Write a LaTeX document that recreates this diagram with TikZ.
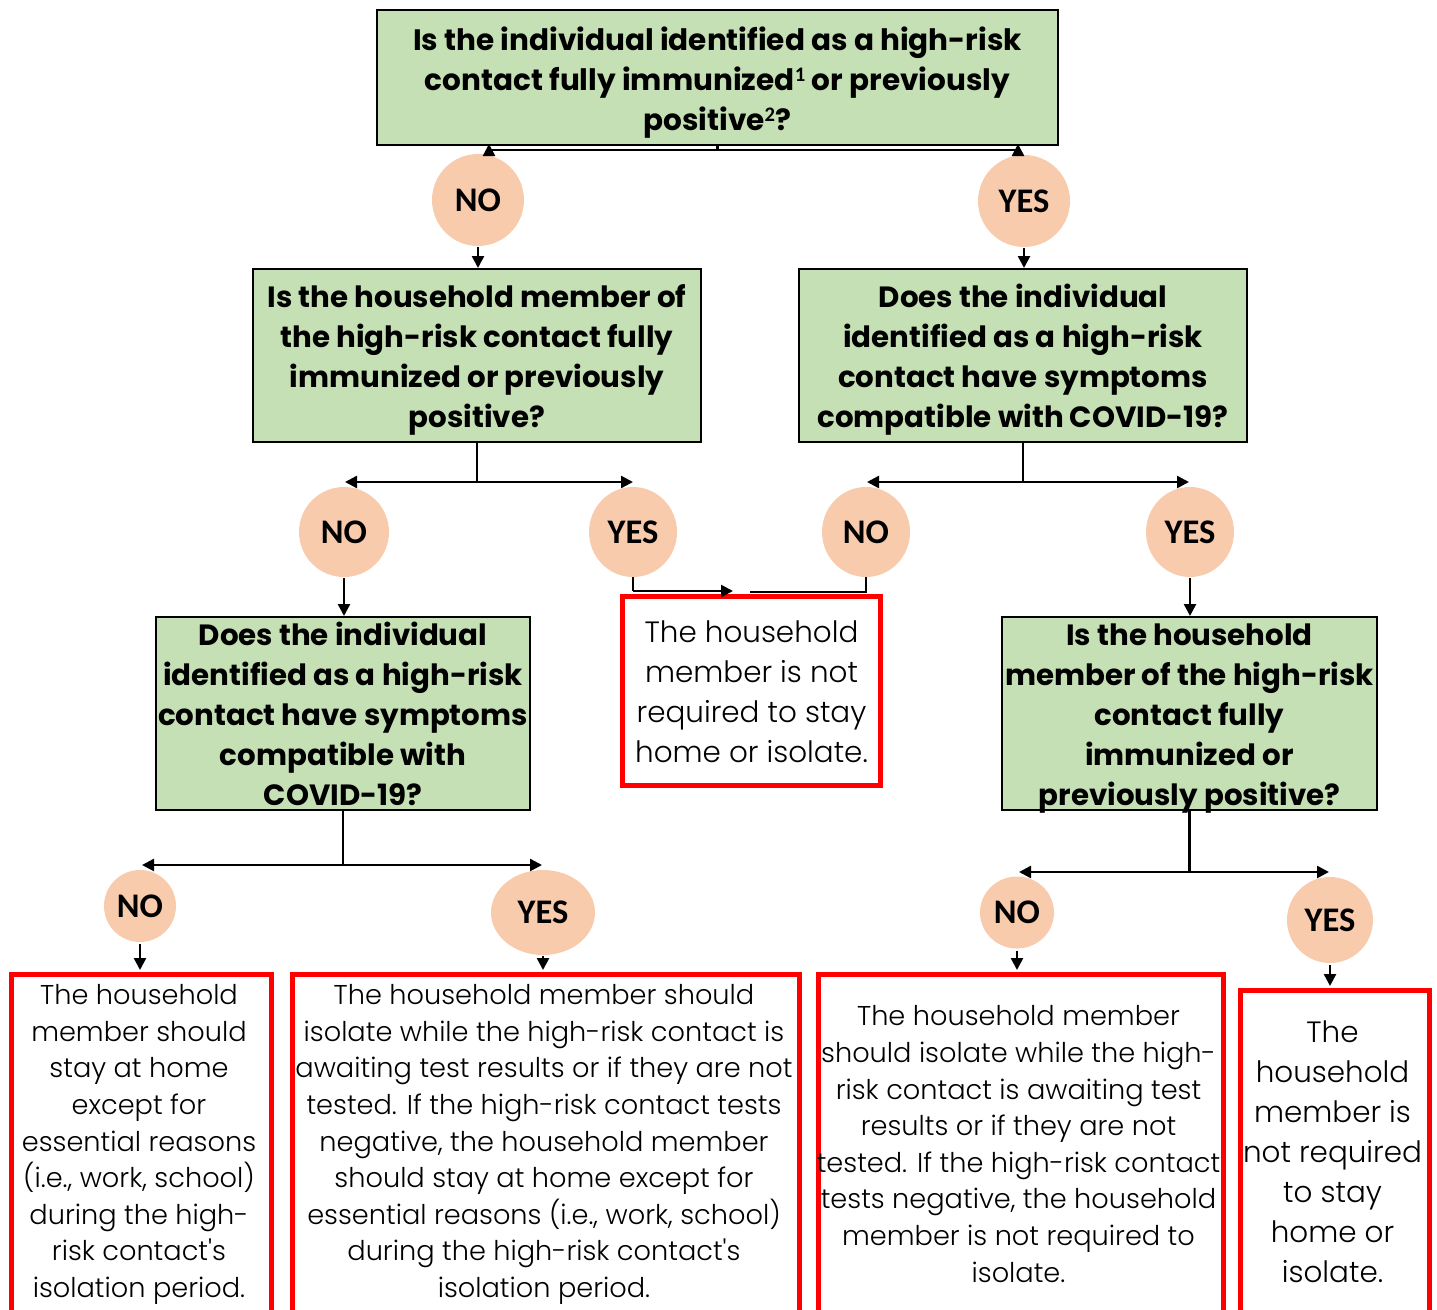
\documentclass[tikz,border=0pt]{standalone}
\usepackage{fontspec}
\setmainfont{Carlito}
\newfontfamily\pfont{Poppins}
\newfontfamily\plight{Poppins}[UprightFont={* Light}]
\usetikzlibrary{shapes.geometric,arrows.meta}
\definecolor{qgreen}{HTML}{C5E0B4}
\definecolor{ans}{HTML}{F8CBAD}
\definecolor{outred}{HTML}{FF0000}
\tikzset{
  gbox/.style={draw=black, line width=2.5pt, fill=qgreen, inner sep=0pt},
  rbox/.style={draw=outred, line width=5pt, fill=white, inner sep=0pt},
  circ/.style={ellipse, fill=ans, inner sep=0pt, font=\fontsize{34.5}{36}\selectfont\bfseries},
  toptext/.style={align=center, inner sep=0pt, font=\pfont\fontsize{29.5}{40}\selectfont\bfseries},
  qtext/.style={align=center, inner sep=0pt, font=\pfont\fontsize{29.3}{40}\selectfont\bfseries},
  atext/.style={align=center, inner sep=0pt, font=\plight\fontsize{27.2}{36.6}\selectfont},
  btext/.style={align=center, inner sep=0pt, font=\plight\fontsize{29.4}{40}\selectfont},
  conn/.style={line width=2.5pt, draw=black},
  arr/.style={conn, -{Triangle[length=12pt, width=12pt]}},
}
\begin{document}
\begin{tikzpicture}[x=1pt,y=-1pt]
\useasboundingbox (0,0) rectangle (1437,1309);
% question boxes
\node[gbox, minimum width=681pt, minimum height=135pt] (q1) at (717.5,77.5) {};
\node[toptext] (t1) at (717.5,82.5) {Is the individual identified as a high-risk\\contact fully immunized\textsuperscript{\rmfamily 1} or previously\\positive\textsuperscript{\rmfamily 2}?};
\node[gbox, minimum width=448pt, minimum height=173pt] (q2) at (477,355.5) {};
\node[qtext] (t2) at (477,359.5) {Is the household member of\\the high-risk contact fully\\immunized or previously\\positive?};
\node[gbox, minimum width=448pt, minimum height=173pt] (q3) at (1023,355.5) {};
\node[qtext] (t3) at (1023,359.5) {Does the individual\\identified as a high-risk\\contact have symptoms\\compatible with COVID-19?};
\node[gbox, minimum width=374pt, minimum height=193pt] (q4) at (343,713.5) {};
\node[qtext] (t4) at (343,714) {Does the individual\\identified as a high-risk\\contact have symptoms\\compatible with\\COVID-19?};
\node[gbox, minimum width=375pt, minimum height=193pt] (q5) at (1189.5,713.5) {};
\node[qtext] (t5) at (1189.5,718.5) {Is the household\\member of the high-risk\\contact fully\\immunized or\\previously positive?};
% outcome boxes
\node[rbox, minimum width=258pt, minimum height=189pt] (r1) at (751.5,691) {};
\node[btext] (o1) at (751.5,692) {The household\\member is not\\required to stay\\home or isolate.};
\node[rbox, minimum width=260pt, minimum height=343pt, anchor=north west] (r2) at (8.5,972) {};
\node[atext] (o2) at (139,1144.5) {The household\\member should\\stay at home\\except for\\essential reasons\\(i.e., work, school)\\during the high-\\risk contact's\\isolation period.};
\node[rbox, minimum width=507pt, minimum height=343pt, anchor=north west] (r3) at (290,972) {};
\node[atext] (o3) at (544,1144.5) {The household member should\\isolate while the high-risk contact is\\awaiting test results or if they are not\\tested. If the high-risk contact tests\\negative, the household member\\should stay at home except for\\essential reasons (i.e., work, school)\\during the high-risk contact's\\isolation period.};
\node[rbox, minimum width=405pt, minimum height=343pt, anchor=north west] (r4) at (816,972) {};
\node[atext] (o4) at (1018.5,1144) {The household member\\should isolate while the high-\\risk contact is awaiting test\\results or if they are not\\tested. If the high-risk contact\\tests negative, the household\\member is not required to\\isolate.};
\node[rbox, minimum width=189pt, minimum height=327pt, anchor=north west] (r5) at (1238,988) {};
\node[btext] (o5) at (1332.5,1152) {The\\household\\member is\\not required\\to stay\\home or\\isolate.};
% answer circles
\node[circ, minimum width=92pt, minimum height=92pt] (n1) at (478,200) {NO};
\node[circ, minimum width=92pt, minimum height=92pt] (y1) at (1024,201) {YES};
\node[circ, minimum width=90pt, minimum height=90pt] (n2) at (344,532) {NO};
\node[circ, minimum width=88pt, minimum height=90pt] (y2) at (633,532) {YES};
\node[circ, minimum width=88pt, minimum height=90pt] (n3) at (866,532) {NO};
\node[circ, minimum width=88pt, minimum height=90pt] (y3) at (1190,532) {YES};
\node[circ, minimum width=72pt, minimum height=72pt] (n4) at (140,906) {NO};
\node[circ, minimum width=104pt, minimum height=85pt] (y4) at (543,912.5) {YES};
\node[circ, minimum width=74pt, minimum height=72pt] (n5) at (1017,912.5) {NO};
\node[circ, minimum width=86pt, minimum height=86pt] (y5) at (1330,920) {YES};
% connectors: top
\coordinate (j1) at (717.5,150);
\draw[conn] (q1.south) -- (j1);
\draw[arr] (j1) -| (489,144);
\draw[arr] (j1) -| (1018,144);
\draw[arr] (n1.south) ++(0,1) -- (478,268);
\draw[arr] (y1.south) ++(0,1) -- (1024,268);
% from q2
\coordinate (j2) at (477,482);
\draw[conn] (q2.south) -- (j2);
\draw[arr] (j2) -- (345,482);
\draw[arr] (j2) -- (633,482);
% from q3
\coordinate (j3) at (1023,482);
\draw[conn] (q3.south) -- (j3);
\draw[arr] (j3) -- (867,482);
\draw[arr] (j3) -- (1189,482);
% to middle outcome
\coordinate (m1) at (633,591);
\coordinate (m2) at (866,592);
\draw[conn] (y2.south) -- (m1);
\draw[arr] (m1) -- (733,591);
\draw[conn] (n3.south) -- (m2) -- (750,592);
\draw[arr] (n2.south) ++(0,1) -- (344,616);
\draw[arr] (y3.south) ++(0,1) -- (1190,616);
% from q4
\coordinate (j4) at (343,865);
\draw[conn] (q4.south) -- (j4);
\draw[arr] (j4) -- (142,865);
\draw[arr] (j4) -- (542,865);
\draw[arr] (n4.south) ++(0,2) -- (140,970);
\draw[arr] (y4.south) ++(0,1) -- (543,970);
% from q5
\coordinate (j5) at (1189.5,872);
\draw[conn] (q5.south) -- (j5);
\draw[arr] (j5) -- (1019,872);
\draw[arr] (j5) -- (1329,872);
\draw[arr] (n5.south) ++(0,2) -- (1017,970);
\draw[arr] (y5.south) ++(0,2) -- (1330,986);
\end{tikzpicture}
\end{document}
